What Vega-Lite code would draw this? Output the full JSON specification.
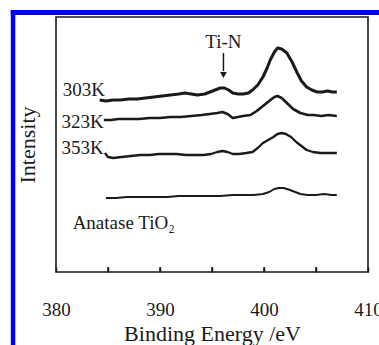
{
  "$schema": "https://vega.github.io/schema/vega-lite/v6.json",
  "width": 312,
  "height": 255,
  "autosize": "none",
  "padding": {"left": 56, "top": 17, "right": 11, "bottom": 73},
  "background": "white",
  "config": {
    "view": {"stroke": "#1a1a1a", "strokeWidth": 1.6},
    "font": "Liberation Serif"
  },
  "datasets": {
    "spectra": [
      {"series": "303K", "energy": 384.2, "intensity": 172},
      {"series": "303K", "energy": 384.8, "intensity": 171},
      {"series": "303K", "energy": 385.5, "intensity": 172},
      {"series": "303K", "energy": 386.2, "intensity": 172},
      {"series": "303K", "energy": 387.0, "intensity": 173},
      {"series": "303K", "energy": 387.8, "intensity": 173},
      {"series": "303K", "energy": 388.6, "intensity": 174},
      {"series": "303K", "energy": 389.4, "intensity": 175},
      {"series": "303K", "energy": 390.2, "intensity": 176},
      {"series": "303K", "energy": 391.0, "intensity": 177},
      {"series": "303K", "energy": 391.8, "intensity": 178},
      {"series": "303K", "energy": 392.4, "intensity": 179},
      {"series": "303K", "energy": 393.0, "intensity": 178},
      {"series": "303K", "energy": 393.6, "intensity": 177},
      {"series": "303K", "energy": 394.3, "intensity": 178},
      {"series": "303K", "energy": 394.8, "intensity": 180},
      {"series": "303K", "energy": 395.3, "intensity": 182},
      {"series": "303K", "energy": 395.8, "intensity": 184},
      {"series": "303K", "energy": 396.2, "intensity": 184},
      {"series": "303K", "energy": 396.6, "intensity": 182},
      {"series": "303K", "energy": 397.0, "intensity": 179},
      {"series": "303K", "energy": 397.5, "intensity": 178},
      {"series": "303K", "energy": 398.0, "intensity": 178},
      {"series": "303K", "energy": 398.5, "intensity": 179},
      {"series": "303K", "energy": 398.9, "intensity": 182},
      {"series": "303K", "energy": 399.4, "intensity": 187},
      {"series": "303K", "energy": 399.9, "intensity": 195},
      {"series": "303K", "energy": 400.3, "intensity": 204},
      {"series": "303K", "energy": 400.6, "intensity": 212},
      {"series": "303K", "energy": 401.0, "intensity": 220},
      {"series": "303K", "energy": 401.3, "intensity": 224},
      {"series": "303K", "energy": 401.7, "intensity": 223},
      {"series": "303K", "energy": 402.2, "intensity": 219},
      {"series": "303K", "energy": 402.7, "intensity": 210},
      {"series": "303K", "energy": 403.2, "intensity": 199},
      {"series": "303K", "energy": 403.6, "intensity": 191},
      {"series": "303K", "energy": 404.1, "intensity": 185},
      {"series": "303K", "energy": 404.6, "intensity": 182},
      {"series": "303K", "energy": 405.1, "intensity": 180},
      {"series": "303K", "energy": 405.6, "intensity": 180},
      {"series": "303K", "energy": 406.1, "intensity": 181},
      {"series": "303K", "energy": 406.6, "intensity": 180},
      {"series": "303K", "energy": 407.0, "intensity": 180},

      {"series": "323K", "energy": 384.6, "intensity": 152},
      {"series": "323K", "energy": 385.3, "intensity": 152},
      {"series": "323K", "energy": 386.0, "intensity": 153},
      {"series": "323K", "energy": 387.0, "intensity": 153},
      {"series": "323K", "energy": 388.0, "intensity": 153},
      {"series": "323K", "energy": 389.0, "intensity": 154},
      {"series": "323K", "energy": 390.0, "intensity": 154},
      {"series": "323K", "energy": 391.0, "intensity": 155},
      {"series": "323K", "energy": 392.0, "intensity": 155},
      {"series": "323K", "energy": 393.0, "intensity": 156},
      {"series": "323K", "energy": 394.0, "intensity": 157},
      {"series": "323K", "energy": 394.8, "intensity": 158},
      {"series": "323K", "energy": 395.5, "intensity": 159},
      {"series": "323K", "energy": 396.0, "intensity": 160},
      {"series": "323K", "energy": 396.5, "intensity": 158},
      {"series": "323K", "energy": 397.0, "intensity": 154},
      {"series": "323K", "energy": 397.5, "intensity": 155},
      {"series": "323K", "energy": 398.0, "intensity": 156},
      {"series": "323K", "energy": 398.7, "intensity": 157},
      {"series": "323K", "energy": 399.3, "intensity": 161},
      {"series": "323K", "energy": 399.9, "intensity": 166},
      {"series": "323K", "energy": 400.5, "intensity": 171},
      {"series": "323K", "energy": 401.0, "intensity": 175},
      {"series": "323K", "energy": 401.3, "intensity": 176},
      {"series": "323K", "energy": 401.7, "intensity": 174},
      {"series": "323K", "energy": 402.2, "intensity": 169},
      {"series": "323K", "energy": 402.8, "intensity": 163},
      {"series": "323K", "energy": 403.5, "intensity": 159},
      {"series": "323K", "energy": 404.2, "intensity": 157},
      {"series": "323K", "energy": 404.8, "intensity": 157},
      {"series": "323K", "energy": 405.5, "intensity": 156},
      {"series": "323K", "energy": 406.2, "intensity": 157},
      {"series": "323K", "energy": 407.0, "intensity": 156},

      {"series": "353K", "energy": 384.7, "intensity": 119},
      {"series": "353K", "energy": 385.0, "intensity": 115},
      {"series": "353K", "energy": 385.5, "intensity": 114},
      {"series": "353K", "energy": 386.3, "intensity": 115},
      {"series": "353K", "energy": 387.2, "intensity": 116},
      {"series": "353K", "energy": 388.1, "intensity": 117},
      {"series": "353K", "energy": 389.0, "intensity": 117},
      {"series": "353K", "energy": 389.9, "intensity": 118},
      {"series": "353K", "energy": 390.7, "intensity": 118},
      {"series": "353K", "energy": 391.6, "intensity": 118},
      {"series": "353K", "energy": 392.5, "intensity": 117},
      {"series": "353K", "energy": 393.4, "intensity": 117},
      {"series": "353K", "energy": 394.2, "intensity": 117},
      {"series": "353K", "energy": 394.9, "intensity": 118},
      {"series": "353K", "energy": 395.5, "intensity": 120},
      {"series": "353K", "energy": 396.0, "intensity": 121},
      {"series": "353K", "energy": 396.5, "intensity": 120},
      {"series": "353K", "energy": 397.0, "intensity": 118},
      {"series": "353K", "energy": 397.6, "intensity": 118},
      {"series": "353K", "energy": 398.3, "intensity": 119},
      {"series": "353K", "energy": 398.9, "intensity": 120},
      {"series": "353K", "energy": 399.4, "intensity": 124},
      {"series": "353K", "energy": 399.9, "intensity": 129},
      {"series": "353K", "energy": 400.4, "intensity": 132},
      {"series": "353K", "energy": 400.9, "intensity": 135},
      {"series": "353K", "energy": 401.3, "intensity": 138},
      {"series": "353K", "energy": 401.7, "intensity": 139},
      {"series": "353K", "energy": 402.1, "intensity": 138},
      {"series": "353K", "energy": 402.6, "intensity": 135},
      {"series": "353K", "energy": 403.1, "intensity": 130},
      {"series": "353K", "energy": 403.6, "intensity": 126},
      {"series": "353K", "energy": 404.1, "intensity": 122},
      {"series": "353K", "energy": 404.7, "intensity": 120},
      {"series": "353K", "energy": 405.4, "intensity": 119},
      {"series": "353K", "energy": 406.2, "intensity": 119},
      {"series": "353K", "energy": 407.0, "intensity": 119},

      {"series": "Anatase", "energy": 384.8, "intensity": 74},
      {"series": "Anatase", "energy": 385.8, "intensity": 74},
      {"series": "Anatase", "energy": 386.8, "intensity": 75},
      {"series": "Anatase", "energy": 387.8, "intensity": 75},
      {"series": "Anatase", "energy": 388.8, "intensity": 75},
      {"series": "Anatase", "energy": 389.8, "intensity": 75},
      {"series": "Anatase", "energy": 390.7, "intensity": 75},
      {"series": "Anatase", "energy": 391.8, "intensity": 76},
      {"series": "Anatase", "energy": 392.8, "intensity": 76},
      {"series": "Anatase", "energy": 393.8, "intensity": 76},
      {"series": "Anatase", "energy": 394.8, "intensity": 76},
      {"series": "Anatase", "energy": 395.8, "intensity": 76},
      {"series": "Anatase", "energy": 397.0, "intensity": 77},
      {"series": "Anatase", "energy": 398.0, "intensity": 77},
      {"series": "Anatase", "energy": 399.0, "intensity": 77},
      {"series": "Anatase", "energy": 399.9, "intensity": 78},
      {"series": "Anatase", "energy": 400.5, "intensity": 80},
      {"series": "Anatase", "energy": 401.0, "intensity": 83},
      {"series": "Anatase", "energy": 401.4, "intensity": 84},
      {"series": "Anatase", "energy": 401.9, "intensity": 84},
      {"series": "Anatase", "energy": 402.5, "intensity": 82},
      {"series": "Anatase", "energy": 403.0, "intensity": 80},
      {"series": "Anatase", "energy": 403.5, "intensity": 78},
      {"series": "Anatase", "energy": 404.2, "intensity": 77},
      {"series": "Anatase", "energy": 405.0, "intensity": 77},
      {"series": "Anatase", "energy": 405.8, "intensity": 78},
      {"series": "Anatase", "energy": 406.5, "intensity": 77},
      {"series": "Anatase", "energy": 407.0, "intensity": 77}
    ],
    "curveLabels": [
      {"text": "303K", "energy": 384.7, "intensity": 182},
      {"text": "323K", "energy": 384.6, "intensity": 150},
      {"text": "353K", "energy": 384.6, "intensity": 124}
    ],
    "sampleLabel": [
      {"text": "Anatase TiO₂", "energy": 381.6, "intensity": 49}
    ],
    "annot": [
      {"text": "Ti-N", "energy": 396.1, "intensity": 230, "arrowTop": 219, "arrowBottom": 201, "tip": 197}
    ],
    "minorTicks": [
      {"energy": 385}, {"energy": 390}, {"energy": 395}, {"energy": 400}, {"energy": 405}
    ]
  },
  "layer": [
    {
      "data": {"name": "spectra"},
      "mark": {"type": "line", "color": "#1a1a1a", "strokeJoin": "round"},
      "encoding": {
        "x": {
          "field": "energy", "type": "quantitative",
          "scale": {"domain": [380, 410], "nice": false, "zero": false},
          "axis": {
            "title": "Binding Energy /eV",
            "values": [380, 385, 390, 395, 400, 405, 410],
            "labelExpr": "datum.value % 10 == 0 ? datum.label : ''",
            "grid": false,
            "domain": false,
            "zindex": 1,
            "offset": -5,
            "tickSize": 5,
            "tickWidth": 1.5,
            "tickColor": "#1a1a1a",
            "labelPadding": 28,
            "labelFont": "Liberation Serif",
            "labelFontSize": 19,
            "labelColor": "#1a1a1a",
            "labelFlush": false,
            "titleFont": "Liberation Serif",
            "titleFontSize": 22,
            "titleFontWeight": "normal",
            "titleColor": "#1a1a1a",
            "titlePadding": 4
          }
        },
        "y": {
          "field": "intensity", "type": "quantitative",
          "scale": {"domain": [0, 255], "nice": false, "zero": false},
          "axis": {
            "title": "Intensity",
            "grid": false,
            "domain": false,
            "ticks": false,
            "labels": false,
            "titleFont": "Liberation Serif",
            "titleFontSize": 22,
            "titleFontWeight": "normal",
            "titleColor": "#1a1a1a",
            "titlePadding": 17
          }
        },
        "detail": {"field": "series"},
        "strokeWidth": {
          "field": "series", "type": "nominal",
          "scale": {"domain": ["303K", "323K", "353K", "Anatase"], "range": [3, 2, 2.2, 2]},
          "legend": null
        }
      }
    },
    {
      "data": {"name": "minorTicks"},
      "mark": {"type": "rule", "color": "#1a1a1a", "strokeWidth": 1.5},
      "encoding": {
        "x": {"field": "energy", "type": "quantitative"},
        "y": {"datum": 0, "type": "quantitative"},
        "y2": {"datum": 5}
      }
    },
    {
      "data": {"name": "curveLabels"},
      "mark": {"type": "text", "font": "Liberation Serif", "fontSize": 19, "color": "#1a1a1a", "baseline": "middle", "align": "right"},
      "encoding": {
        "x": {"field": "energy", "type": "quantitative"},
        "y": {"field": "intensity", "type": "quantitative"},
        "text": {"field": "text"}
      }
    },
    {
      "data": {"name": "sampleLabel"},
      "mark": {"type": "text", "font": "Liberation Serif", "fontSize": 19, "color": "#1a1a1a", "baseline": "middle", "align": "left"},
      "encoding": {
        "x": {"field": "energy", "type": "quantitative"},
        "y": {"field": "intensity", "type": "quantitative"},
        "text": {"field": "text"}
      }
    },
    {
      "data": {"name": "annot"},
      "mark": {"type": "text", "font": "Liberation Serif", "fontSize": 19, "color": "#1a1a1a", "baseline": "middle", "align": "center"},
      "encoding": {
        "x": {"field": "energy", "type": "quantitative"},
        "y": {"field": "intensity", "type": "quantitative"},
        "text": {"field": "text"}
      }
    },
    {
      "data": {"name": "annot"},
      "mark": {"type": "rule", "color": "#1a1a1a", "strokeWidth": 1.5},
      "encoding": {
        "x": {"field": "energy", "type": "quantitative"},
        "y": {"field": "arrowTop", "type": "quantitative"},
        "y2": {"field": "arrowBottom"}
      }
    },
    {
      "data": {"name": "annot"},
      "mark": {"type": "point", "shape": "triangle-down", "filled": true, "color": "#1a1a1a", "size": 45, "opacity": 1},
      "encoding": {
        "x": {"field": "energy", "type": "quantitative"},
        "y": {"field": "tip", "type": "quantitative"}
      }
    },
    {
      "data": {"values": [{}]},
      "mark": {"type": "rule", "color": "#0000ff", "strokeWidth": 4.5},
      "encoding": {
        "x": {"datum": 375.87, "type": "quantitative"},
        "y": {"datum": 262, "type": "quantitative"},
        "y2": {"datum": -73}
      }
    },
    {
      "data": {"values": [{}]},
      "mark": {"type": "rule", "color": "#0000ff", "strokeWidth": 5},
      "encoding": {
        "x": {"datum": 375.65, "type": "quantitative"},
        "x2": {"datum": 411.1},
        "y": {"datum": 259.5, "type": "quantitative"}
      }
    }
  ]
}
